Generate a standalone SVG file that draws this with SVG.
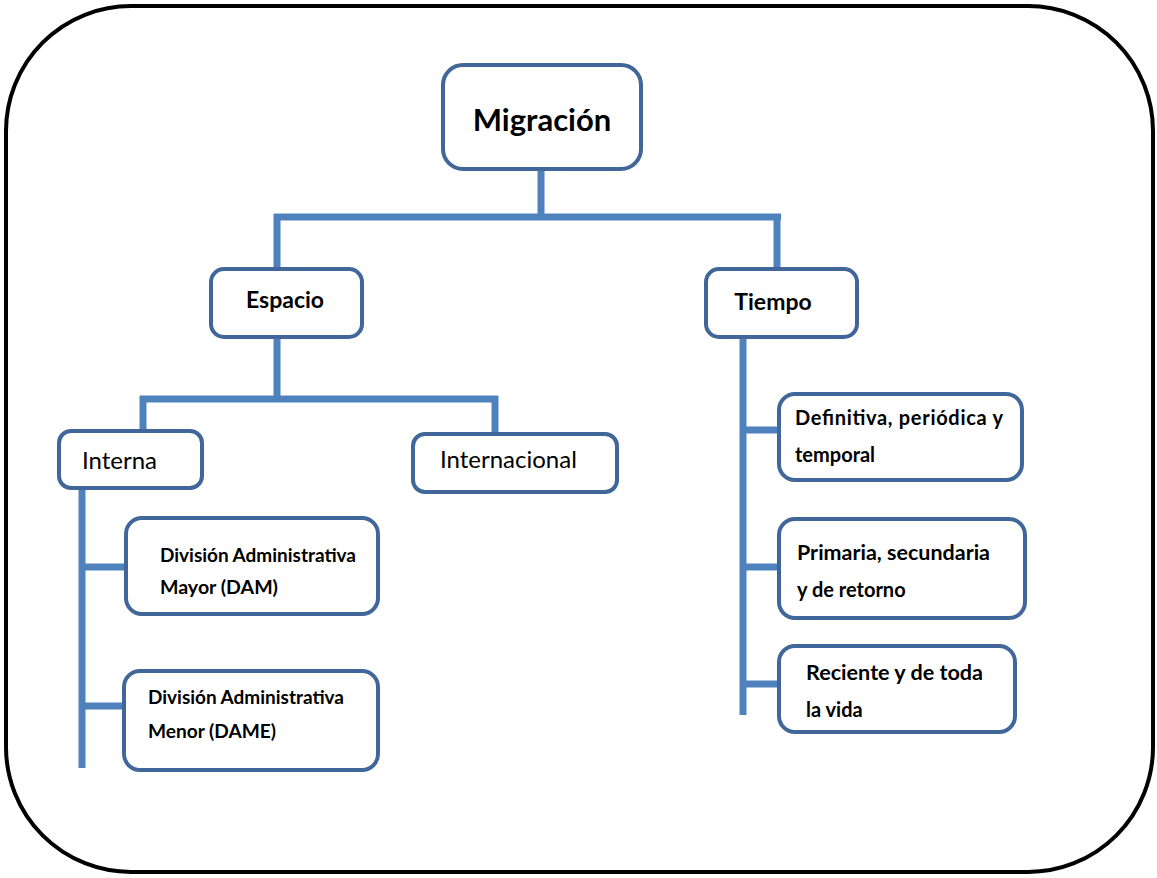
<svg xmlns="http://www.w3.org/2000/svg" width="1157" height="878" viewBox="0 0 1157 878">
<style>
.node rect{fill:#fff;stroke:#41679a;stroke-width:4}
.conn line{stroke:#4f81bd;stroke-width:7;stroke-linecap:butt}
text{font-family:Lato,"Open Sans","Liberation Sans",sans-serif;fill:#000}
.b{font-weight:bold}
</style>
<rect x="6" y="6" width="1147" height="866" rx="125" ry="125" fill="#fff" stroke="#000" stroke-width="4"/>
<g id="connectors" class="conn">
<line x1="541" y1="170" x2="541" y2="217"/>
<line x1="274" y1="217" x2="781" y2="217"/>
<line x1="277" y1="214" x2="277" y2="269"/>
<line x1="777" y1="214" x2="777" y2="269"/>
<line x1="277" y1="336" x2="277" y2="399"/>
<line x1="140" y1="399" x2="498" y2="399"/>
<line x1="143" y1="396" x2="143" y2="431"/>
<line x1="495" y1="396" x2="495" y2="434"/>
<line x1="82" y1="487" x2="82" y2="768"/>
<line x1="82" y1="567" x2="125" y2="567"/>
<line x1="82" y1="706" x2="124" y2="706"/>
<line x1="743" y1="336" x2="743" y2="715"/>
<line x1="743" y1="430" x2="779" y2="430"/>
<line x1="743" y1="567" x2="779" y2="567"/>
<line x1="743" y1="684" x2="779" y2="684"/>
</g>
<g id="migracion" class="node">
<rect x="443" y="65" width="198" height="104" rx="20"/>
<text class="b" x="542" y="131" font-size="31" text-anchor="middle">Migración</text>
</g>
<g id="espacio" class="node">
<rect x="211" y="269" width="151" height="68" rx="13"/>
<text class="b" x="285" y="308" font-size="23" text-anchor="middle">Espacio</text>
</g>
<g id="tiempo" class="node">
<rect x="706" y="269" width="151" height="68" rx="13"/>
<text class="b" x="773" y="310" font-size="23" text-anchor="middle">Tiempo</text>
</g>
<g id="interna" class="node">
<rect x="59" y="431" width="143" height="57" rx="12"/>
<text x="82" y="469" font-size="24">Interna</text>
</g>
<g id="internacional" class="node">
<rect x="413" y="434" width="204" height="58" rx="12"/>
<text x="440" y="468" font-size="24">Internacional</text>
</g>
<g id="dam" class="node">
<rect x="126" y="518" width="252" height="96" rx="16"/>
<text class="b" x="160" y="562" font-size="18.5" textLength="196" lengthAdjust="spacingAndGlyphs">División Administrativa</text>
<text class="b" x="160" y="594" font-size="18.5" textLength="118" lengthAdjust="spacingAndGlyphs">Mayor (DAM)</text>
</g>
<g id="dame" class="node">
<rect x="124" y="671" width="254" height="99" rx="16"/>
<text class="b" x="148" y="704" font-size="18.5" textLength="196" lengthAdjust="spacingAndGlyphs">División Administrativa</text>
<text class="b" x="148" y="738" font-size="18.5" textLength="128" lengthAdjust="spacingAndGlyphs">Menor (DAME)</text>
</g>
<g id="definitiva" class="node">
<rect x="779" y="394" width="243" height="86" rx="16"/>
<text class="b" x="795" y="425" font-size="20" textLength="208" lengthAdjust="spacing">Definitiva, periódica y</text>
<text class="b" x="795" y="462" font-size="20">temporal</text>
</g>
<g id="primaria" class="node">
<rect x="779" y="519" width="246" height="99" rx="16"/>
<text class="b" x="797" y="560" font-size="20" textLength="193" lengthAdjust="spacingAndGlyphs">Primaria, secundaria</text>
<text class="b" x="797" y="597" font-size="20">y de retorno</text>
</g>
<g id="reciente" class="node">
<rect x="779" y="646" width="236" height="86" rx="16"/>
<text class="b" x="806" y="680" font-size="20" textLength="177" lengthAdjust="spacingAndGlyphs">Reciente y de toda</text>
<text class="b" x="806" y="717" font-size="20">la vida</text>
</g>
</svg>
